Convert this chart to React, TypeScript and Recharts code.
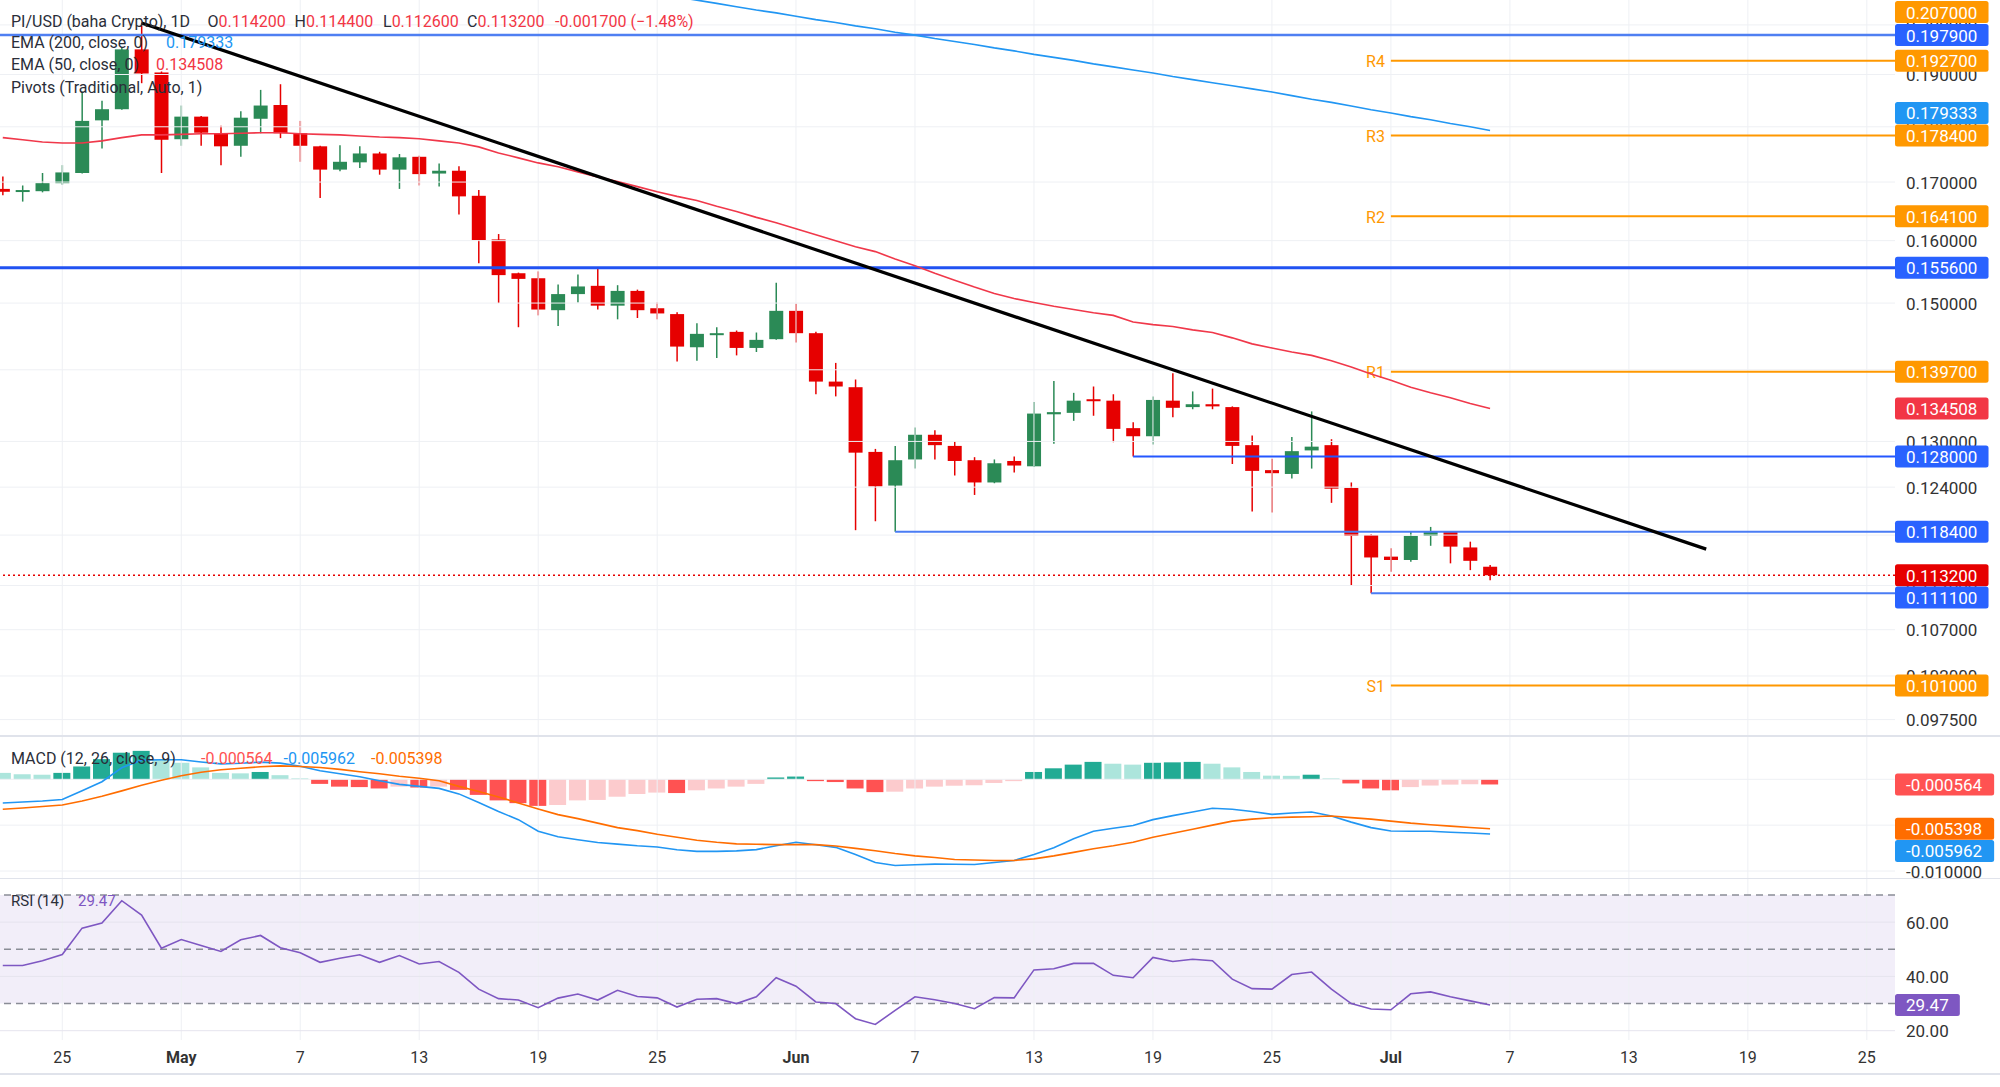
import React from 'react';
import { ComposedChart, Bar, Line, XAxis, YAxis, ReferenceLine, ReferenceArea, Cell } from 'recharts';

const FONT = 'Roboto, "Noto Sans", Arial, sans-serif';
const CHART_W = 2000;
const AXIS_W = 105;
const PLOT_W = CHART_W - AXIS_W;
const X_MIN = -0.14;
const X_MAX = 95.42;

const PRICE_H = 736;
const MACD_TOP = 736;
const MACD_H = 142;
const RSI_TOP = 879;
const RSI_H = 161;
const TIME_H = 33;

const P_MIN = 0.09586;
const P_MAX = 0.20522;
const MACD_MIN = -0.010763;
const MACD_MAX = 0.004722;
const RSI_MIN = 16.57;
const RSI_MAX = 75.9;

const BULL = '#2b8a56';
const BEAR = '#e60000';
const BLUE = '#2962ff';
const ORANGE = '#ff9800';
const GRID = '#eef0f4';
const TEXT = '#2a2e39';

// daily candles, index 0 = Apr 22, last = Jul 6
const open = [
  0.1688, 0.1684, 0.1684, 0.1698, 0.1716, 0.1812, 0.1833, 0.1950, 0.1904, 0.1777,
  0.1819, 0.1788, 0.1765, 0.1815, 0.1841, 0.1788, 0.1764, 0.1722, 0.1735, 0.1751,
  0.1722, 0.1745, 0.1715, 0.1720, 0.1676, 0.1602, 0.1547, 0.1539, 0.1489, 0.1514,
  0.1527, 0.1496, 0.1519, 0.1492, 0.1483, 0.1433, 0.1452, 0.1456, 0.1432, 0.1445,
  0.1488, 0.1454, 0.1383, 0.1375, 0.1286, 0.1242, 0.1276, 0.1309, 0.1294, 0.1275,
  0.1246, 0.1274, 0.1267, 0.1337, 0.1339, 0.1358, 0.1356, 0.1318, 0.1307, 0.1356,
  0.1347, 0.1351, 0.1347, 0.1295, 0.1262, 0.1257, 0.1288, 0.1295, 0.1239, 0.1180,
  0.1154, 0.1150, 0.1179, 0.1184, 0.1165, 0.1142,
];
const high = [
  0.1710, 0.1694, 0.1716, 0.1730, 0.1867, 0.1849, 0.1955, 0.2004, 0.1906, 0.1840,
  0.1820, 0.1802, 0.1829, 0.1870, 0.1881, 0.1811, 0.1765, 0.1766, 0.1764, 0.1754,
  0.1750, 0.1747, 0.1733, 0.1728, 0.1686, 0.1611, 0.1548, 0.1550, 0.1529, 0.1545,
  0.1555, 0.1528, 0.1521, 0.1501, 0.1486, 0.1469, 0.1463, 0.1458, 0.1455, 0.1532,
  0.1499, 0.1456, 0.1410, 0.1386, 0.1290, 0.1294, 0.1319, 0.1315, 0.1300, 0.1279,
  0.1276, 0.1280, 0.1354, 0.1384, 0.1367, 0.1376, 0.1365, 0.1326, 0.1362, 0.1395,
  0.1369, 0.1373, 0.1348, 0.1308, 0.1277, 0.1306, 0.1341, 0.1303, 0.1246, 0.1181,
  0.1164, 0.1184, 0.1190, 0.1185, 0.1172, 0.1144,
];
const low = [
  0.1677, 0.1666, 0.1682, 0.1695, 0.1715, 0.1760, 0.1832, 0.1883, 0.1716, 0.1765,
  0.1765, 0.1730, 0.1745, 0.1788, 0.1779, 0.1736, 0.1672, 0.1719, 0.1725, 0.1713,
  0.1688, 0.1694, 0.1692, 0.1644, 0.1563, 0.1500, 0.1463, 0.1481, 0.1465, 0.1501,
  0.1490, 0.1475, 0.1477, 0.1475, 0.1412, 0.1413, 0.1417, 0.1421, 0.1426, 0.1444,
  0.1440, 0.1365, 0.1362, 0.1186, 0.1197, 0.1184, 0.1264, 0.1276, 0.1255, 0.1230,
  0.1245, 0.1259, 0.1266, 0.1297, 0.1328, 0.1335, 0.1299, 0.1280, 0.1296, 0.1333,
  0.1344, 0.1344, 0.1270, 0.1209, 0.1208, 0.1251, 0.1264, 0.1220, 0.1120, 0.1111,
  0.1136, 0.1148, 0.1167, 0.1146, 0.1138, 0.1126,
];
const close = [
  0.1683, 0.1686, 0.1698, 0.1717, 0.1811, 0.1833, 0.1950, 0.1902, 0.1776, 0.1819,
  0.1789, 0.1764, 0.1817, 0.1840, 0.1788, 0.1765, 0.1722, 0.1736, 0.1751, 0.1722,
  0.1744, 0.1714, 0.1720, 0.1675, 0.1601, 0.1544, 0.1538, 0.1490, 0.1514, 0.1526,
  0.1496, 0.1519, 0.1489, 0.1484, 0.1434, 0.1453, 0.1454, 0.1432, 0.1444, 0.1488,
  0.1454, 0.1383, 0.1376, 0.1285, 0.1241, 0.1275, 0.1309, 0.1295, 0.1274, 0.1246,
  0.1271, 0.1268, 0.1338, 0.1340, 0.1356, 0.1356, 0.1317, 0.1307, 0.1357, 0.1346,
  0.1351, 0.1348, 0.1294, 0.1261, 0.1258, 0.1287, 0.1293, 0.1238, 0.1179, 0.1153,
  0.1150, 0.1179, 0.1184, 0.1166, 0.1149, 0.1132,
];
const ema50 = [
  0.1780, 0.1776, 0.1772, 0.1770, 0.1770, 0.1774, 0.1780, 0.1785, 0.1785, 0.1786,
  0.1787, 0.1787, 0.1788, 0.1789, 0.1789, 0.1787, 0.1786, 0.1785, 0.1783, 0.1781,
  0.1780, 0.1778, 0.1774, 0.1770, 0.1763, 0.1752, 0.1743, 0.1734, 0.1727, 0.1718,
  0.1709, 0.1701, 0.1692, 0.1683, 0.1675, 0.1668, 0.1658, 0.1649, 0.1639, 0.1630,
  0.1620, 0.1610, 0.1600, 0.1590, 0.1582, 0.1570, 0.1559, 0.1547, 0.1536, 0.1525,
  0.1515, 0.1507, 0.1501, 0.1495, 0.1490, 0.1485, 0.1481, 0.1471, 0.1467, 0.1464,
  0.1459, 0.1455, 0.1447, 0.1438, 0.1432, 0.1426, 0.1421, 0.1413, 0.1404, 0.1394,
  0.1385, 0.1375, 0.1367, 0.1360, 0.1352, 0.1345,
];
const ema200: (number | null)[] = [
  ...Array(33).fill(null),
  0.2065, 0.2058, 0.2052, 0.2045, 0.2038, 0.2031, 0.2025,
  0.2018, 0.2011, 0.2005, 0.1998, 0.1992, 0.1985, 0.1979, 0.1972, 0.1966, 0.1960,
  0.1953, 0.1947, 0.1940, 0.1934, 0.1928, 0.1921, 0.1915, 0.1909, 0.1903, 0.1896,
  0.1890, 0.1884, 0.1878, 0.1872, 0.1866, 0.1859, 0.1852, 0.1846, 0.1839, 0.1832,
  0.1826, 0.1819, 0.1813, 0.1806, 0.1800, 0.1793,
];

const macd = [
  -0.00258, -0.00247, -0.00236, -0.0022, -0.00126, -0.00027, 0.00126, 0.00209, 0.00214, 0.00214,
  0.00189, 0.00168, 0.00175, 0.00187, 0.00176, 0.00143, 0.00093, 0.0006, 0.00027, -0.00016,
  -0.00055, -0.00077, -0.00099, -0.00159, -0.00253, -0.00352, -0.0044, -0.00566, -0.00626, -0.00659,
  -0.0069, -0.00707, -0.00725, -0.00738, -0.00769, -0.00786, -0.00786, -0.0078, -0.00767, -0.00725,
  -0.00687, -0.00714, -0.00742, -0.00819, -0.00907, -0.0094, -0.00932, -0.00925, -0.00926, -0.00929,
  -0.00907, -0.00885, -0.00819, -0.00747, -0.00648, -0.00566, -0.00533, -0.00503, -0.0044, -0.00396,
  -0.00357, -0.00316, -0.00327, -0.00352, -0.00382, -0.00368, -0.00357, -0.00401, -0.00467, -0.00527,
  -0.00563, -0.00566, -0.00566, -0.00577, -0.00586, -0.005962,
];
const signal = [
  -0.00326, -0.00313, -0.00297, -0.0028, -0.00236, -0.00185, -0.00126, -0.00066, -0.00011, 0.00038,
  0.00077, 0.00104, 0.00121, 0.00137, 0.00146, 0.0014, 0.00129, 0.00108, 0.00082, 0.0006,
  0.00033, 0.00011, -0.00016, -0.00077, -0.00132, -0.00192, -0.00258, -0.00324, -0.00385, -0.00429,
  -0.00478, -0.00527, -0.0056, -0.00599, -0.00632, -0.00665, -0.00687, -0.00704, -0.00709, -0.00712,
  -0.00712, -0.00712, -0.00727, -0.00753, -0.0078, -0.0081, -0.00835, -0.00852, -0.00874, -0.0088,
  -0.00885, -0.00885, -0.00868, -0.00835, -0.00797, -0.00758, -0.00725, -0.00687, -0.00632, -0.00588,
  -0.00544, -0.005, -0.00456, -0.00434, -0.0042, -0.00413, -0.00408, -0.00401, -0.00418, -0.00434,
  -0.00456, -0.00478, -0.00495, -0.00511, -0.00525, -0.005398,
];
const hist = [
  0.0007, 0.00055, 0.0005, 0.0007, 0.0014, 0.0022, 0.0029, 0.0031, 0.0021, 0.0018,
  0.0013, 0.0007, 0.00065, 0.0008, 0.00045, 0.0001, -0.0005, -0.0008, -0.00085, -0.001,
  -0.0008, -0.0009, -0.0008, -0.00115, -0.0017, -0.0023, -0.0026, -0.0029, -0.0028, -0.0023,
  -0.00225, -0.0019, -0.0016, -0.00145, -0.0015, -0.0012, -0.001, -0.0008, -0.0005, 0.0002,
  0.0003, -0.0002, -0.0003, -0.001, -0.0014, -0.00135, -0.001, -0.0008, -0.0007, -0.00065,
  -0.0004, -0.0002, 0.0008, 0.0012, 0.0016, 0.0019, 0.0017, 0.0016, 0.0018, 0.00185,
  0.0019, 0.0017, 0.0013, 0.0008, 0.0004, 0.00038, 0.0005, 0.0001, -0.00045, -0.001,
  -0.0012, -0.00085, -0.00068, -0.00058, -0.00054, -0.000564,
];
const rsi = [
  44.0, 44.0, 45.8, 48.1, 57.8, 59.7, 67.9, 62.6, 50.4, 53.6,
  51.4, 49.2, 53.5, 55.1, 50.6, 48.7, 45.2, 46.7, 48.0, 45.2,
  47.7, 44.6, 45.5, 41.5, 35.3, 31.8, 31.3, 28.5, 32.0, 33.5,
  31.3, 34.9, 32.6, 32.1, 28.7, 31.6, 31.8, 30.0, 32.5, 39.5,
  36.4, 30.6, 30.0, 24.4, 22.3, 27.5, 32.5, 31.4, 30.0, 28.1,
  32.2, 32.1, 42.4, 42.8, 44.8, 44.8, 40.4, 39.5, 47.0, 45.5,
  46.3, 45.8, 39.0, 35.5, 35.3, 40.7, 41.6, 35.3, 30.0, 28.0,
  27.7, 33.6, 34.3, 32.5, 31.0, 29.47,
];

// axis ticks
const dateTickDays = [3, 9, 15, 21, 27, 33, 40, 46, 52, 58, 64, 70, 76, 82, 88, 94];
const dateTickLabels = ['25', 'May', '7', '13', '19', '25', 'Jun', '7', '13', '19', '25', 'Jul', '7', '13', '19', '25'];
const priceTicks = [0.2, 0.19, 0.18, 0.17, 0.16, 0.15, 0.14, 0.13, 0.124, 0.118, 0.112, 0.107, 0.102, 0.0975];
const macdTicks = [0, -0.005, -0.01];
const rsiTicks = [20, 40, 60];
const rsiBands = [70, 50, 30];

// levels
const fullLevels = [0.1979, 0.1556];
const supportLevels = [0.128, 0.1184, 0.1111];
const supportFrom = [57, 45, 69];
const pivotNames = ['R4', 'R3', 'R2', 'R1', 'S1'];
const pivotValues = [0.1927, 0.1784, 0.1641, 0.1397, 0.101];
const pivotFrom = 70;
const pivotR5 = 0.207;
const lastPrice = 0.1132;
const trendFrom = { d: 7, v: 0.2004 };
const trendTo = { d: 85.9, v: 0.1163 };

const lastEma200 = 0.179333;
const lastEma50 = 0.134508;

const priceRows = open.map((o, i) => ({
  d: i,
  o,
  h: high[i],
  l: low[i],
  c: close[i],
  range: [low[i], high[i]],
  ema50: ema50[i],
  ema200: ema200[i],
}));
const macdRows = macd.map((m, i) => ({ d: i, macd: m, signal: signal[i], hist: hist[i] }));
const rsiRows = rsi.map((r, i) => ({ d: i, rsi: r }));

function histColor(i: number) {
  const v = hist[i];
  const prev = i > 0 ? hist[i - 1] : Infinity;
  if (v >= 0) return v > prev ? '#22ab94' : '#ace5dc';
  return v < (i > 0 ? prev : -Infinity) ? '#ff5252' : '#fccbcd';
}

function Candle(props: any) {
  const { x, y, width, height, payload } = props;
  if (!payload || !height) return null;
  const { o, h, l, c } = payload;
  const k = height / (Math.log(h) - Math.log(l));
  const py = (v: number) => y + (Math.log(h) - Math.log(v)) * k;
  const color = c >= o ? BULL : BEAR;
  const top = py(Math.max(o, c));
  const bot = py(Math.min(o, c));
  const cx = x + width / 2;
  return (
    <g>
      <line x1={cx} x2={cx} y1={y} y2={y + height} stroke={color} strokeWidth={1.5} />
      <rect x={x} y={top} width={width} height={Math.max(bot - top, 2)} fill={color} />
    </g>
  );
}

function tagWidth(t: string, fs: number) {
  let w = 0;
  for (const ch of t) w += ch === '.' ? 0.27 : ch === '-' ? 0.33 : 0.5625;
  return w * fs + 22;
}

function Tag(props: any) {
  const { viewBox, text, bg, shift = 0 } = props;
  if (!viewBox) return null;
  const cy = Math.max(viewBox.y + shift, 12);
  return (
    <g>
      <rect x={PLOT_W} y={cy - 11} width={tagWidth(text, 17)} height={22} rx={2.5} fill={bg} />
      <text x={PLOT_W + 11} y={cy + 0.5} dominantBaseline="central" fill="#fff" fontSize={17} fontFamily={FONT}>
        {text}
      </text>
    </g>
  );
}

function PivotName(props: any) {
  const { viewBox, name } = props;
  if (!viewBox) return null;
  return (
    <text x={viewBox.x - 6} y={viewBox.y + 1} textAnchor="end" dominantBaseline="central" fill={ORANGE} fontSize={16} fontFamily={FONT}>
      {name}
    </text>
  );
}

const axisTick = (fmt: (v: number) => string) => (props: any) => (
  <text x={PLOT_W + 11} y={props.y + 0.5} dominantBaseline="central" fontSize={17} fill="#333" fontFamily={FONT}>
    {fmt(props.payload.value)}
  </text>
);

function DateTick(props: any) {
  const i = dateTickDays.indexOf(props.payload.value);
  const label = dateTickLabels[i] ?? '';
  const bold = isNaN(Number(label));
  return (
    <text x={props.x} y={RSI_H + 17} textAnchor="middle" dominantBaseline="central" fontSize={16}
      fontWeight={bold ? 700 : 400} fill="#333" fontFamily={FONT}>
      {label}
    </text>
  );
}

const margin0 = { top: 0, right: 0, bottom: 0, left: 0 };
const marginOverlay = { top: 0, right: AXIS_W, bottom: 0, left: 0 };

const vGrid = dateTickDays.map((d) => <ReferenceLine key={`v${d}`} x={d} stroke={GRID} strokeWidth={1} />);

const fmt6 = (v: number) => v.toFixed(6);

function PricePane() {
  return (
    <ComposedChart width={CHART_W} height={PRICE_H} data={priceRows} margin={margin0}>
      <XAxis type="number" dataKey="d" domain={[X_MIN, X_MAX]} allowDataOverflow hide />
      <YAxis orientation="right" width={AXIS_W} scale="log" domain={[P_MIN, P_MAX]} allowDataOverflow
        ticks={priceTicks} interval={0} axisLine={false} tickLine={false} tick={axisTick(fmt6)} />
      {vGrid}
      {priceTicks.map((t) => <ReferenceLine key={`h${t}`} y={t} stroke={GRID} strokeWidth={1} />)}
      <ReferenceLine y={fullLevels[0]} stroke="#4f7ff2" strokeWidth={2.5} />
      <ReferenceLine y={fullLevels[1]} stroke="#2152f2" strokeWidth={3} />
      {supportLevels.map((v, i) => (
        <ReferenceLine key={`s${v}`} segment={[{ x: supportFrom[i], y: v }, { x: X_MAX, y: v }]}
          stroke={i === 0 ? '#2457ff' : '#4a7cf4'} strokeWidth={2} />
      ))}
      {pivotValues.map((v, i) => (
        <ReferenceLine key={`p${v}`} segment={[{ x: pivotFrom, y: v }, { x: X_MAX, y: v }]}
          stroke={ORANGE} strokeWidth={2} label={<PivotName name={pivotNames[i]} />} />
      ))}
      <Line dataKey="ema200" stroke="#2196f3" strokeWidth={1.6} dot={false} isAnimationActive={false} connectNulls={false} />
      <Line dataKey="ema50" stroke="#f0384a" strokeWidth={1.6} dot={false} isAnimationActive={false} />
      <Bar dataKey="range" barSize={14} isAnimationActive={false} shape={(p: any) => <Candle {...p} />} />
      <ReferenceLine y={lastPrice} stroke={BEAR} strokeWidth={1.5} strokeDasharray="2 3" />
      <ReferenceLine segment={[{ x: trendFrom.d, y: trendFrom.v }, { x: trendTo.d, y: trendTo.v }]}
        stroke="#000" strokeWidth={3.2} />
    </ComposedChart>
  );
}

function PriceTags() {
  const tags = [
    { v: pivotR5, bg: ORANGE, shift: 0 },
    { v: fullLevels[0], bg: BLUE, shift: 0 },
    { v: pivotValues[0], bg: ORANGE, shift: 0 },
    { v: lastEma200, bg: '#2196f3', shift: -17.5 },
    { v: pivotValues[1], bg: ORANGE, shift: 0 },
    { v: pivotValues[2], bg: ORANGE, shift: 0 },
    { v: fullLevels[1], bg: BLUE, shift: 0 },
    { v: pivotValues[3], bg: ORANGE, shift: 0 },
    { v: lastEma50, bg: '#f23645', shift: 0 },
    { v: supportLevels[0], bg: BLUE, shift: 0 },
    { v: supportLevels[1], bg: BLUE, shift: 0 },
    { v: lastPrice, bg: BEAR, shift: 0 },
    { v: supportLevels[2], bg: BLUE, shift: 4.2 },
    { v: pivotValues[4], bg: ORANGE, shift: 0 },
  ];
  return (
    <ComposedChart width={CHART_W} height={PRICE_H} data={priceRows} margin={marginOverlay}>
      <XAxis type="number" dataKey="d" domain={[X_MIN, X_MAX]} allowDataOverflow hide />
      <YAxis scale="log" domain={[P_MIN, P_MAX]} allowDataOverflow hide />
      {tags.map((t) => (
        <ReferenceLine key={`t${t.v}`} y={t.v} stroke="none" ifOverflow="visible"
          label={<Tag text={t.v.toFixed(6)} bg={t.bg} shift={t.shift} />} />
      ))}
    </ComposedChart>
  );
}

function MacdPane() {
  return (
    <ComposedChart width={CHART_W} height={MACD_H} data={macdRows} margin={margin0}>
      <XAxis type="number" dataKey="d" domain={[X_MIN, X_MAX]} allowDataOverflow hide />
      <YAxis orientation="right" width={AXIS_W} domain={[MACD_MIN, MACD_MAX]} allowDataOverflow
        ticks={macdTicks} interval={0} axisLine={false} tickLine={false} tick={axisTick(fmt6)} />
      {vGrid}
      {macdTicks.map((t) => <ReferenceLine key={`m${t}`} y={t} stroke={GRID} strokeWidth={1} />)}
      <Bar dataKey="hist" barSize={17} isAnimationActive={false}>
        {macdRows.map((r, i) => <Cell key={i} fill={histColor(i)} />)}
      </Bar>
      <Line dataKey="macd" stroke="#2196f3" strokeWidth={1.6} dot={false} isAnimationActive={false} />
      <Line dataKey="signal" stroke="#ff6d00" strokeWidth={1.6} dot={false} isAnimationActive={false} />
    </ComposedChart>
  );
}

function MacdTags() {
  const n = macd.length - 1;
  const tags = [
    { v: hist[n], bg: '#ff5252', shift: 0 },
    { v: signal[n], bg: '#ff6d00', shift: 0 },
    { v: macd[n], bg: '#2196f3', shift: 17 },
  ];
  return (
    <ComposedChart width={CHART_W} height={MACD_H} data={macdRows} margin={marginOverlay}>
      <XAxis type="number" dataKey="d" domain={[X_MIN, X_MAX]} allowDataOverflow hide />
      <YAxis domain={[MACD_MIN, MACD_MAX]} allowDataOverflow hide />
      {tags.map((t) => (
        <ReferenceLine key={`mt${t.v}`} y={t.v} stroke="none" ifOverflow="visible"
          label={<Tag text={t.v.toFixed(6)} bg={t.bg} shift={t.shift} />} />
      ))}
    </ComposedChart>
  );
}

function RsiPane() {
  return (
    <ComposedChart width={CHART_W} height={RSI_H + TIME_H} data={rsiRows} margin={margin0}>
      <XAxis type="number" dataKey="d" domain={[X_MIN, X_MAX]} allowDataOverflow ticks={dateTickDays}
        interval={0} height={TIME_H} axisLine={false} tickLine={false} tick={DateTick} />
      <YAxis orientation="right" width={AXIS_W} domain={[RSI_MIN, RSI_MAX]} allowDataOverflow
        ticks={rsiTicks} interval={0} axisLine={false} tickLine={false} tick={axisTick((v) => v.toFixed(2))} />
      <ReferenceArea y1={rsiBands[2]} y2={rsiBands[0]} fill="#7e57c2" fillOpacity={0.1} stroke="none" />
      {vGrid}
      {rsiTicks.map((t) => <ReferenceLine key={`r${t}`} y={t} stroke="#e6e4ee" strokeWidth={1} />)}
      {rsiBands.map((b) => (
        <ReferenceLine key={`b${b}`} y={b} stroke="#8a8d96" strokeWidth={1.5} strokeDasharray="7 5" />
      ))}
      <Line dataKey="rsi" stroke="#7e57c2" strokeWidth={1.6} dot={false} isAnimationActive={false} />
    </ComposedChart>
  );
}

function RsiTags() {
  const n = rsi.length - 1;
  return (
    <ComposedChart width={CHART_W} height={RSI_H + TIME_H} data={rsiRows}
      margin={{ top: 0, right: AXIS_W, bottom: TIME_H, left: 0 }}>
      <XAxis type="number" dataKey="d" domain={[X_MIN, X_MAX]} allowDataOverflow hide />
      <YAxis domain={[RSI_MIN, RSI_MAX]} allowDataOverflow hide />
      <ReferenceLine y={rsi[n]} stroke="none" ifOverflow="visible"
        label={<Tag text={rsi[n].toFixed(2)} bg="#7e57c2" />} />
    </ComposedChart>
  );
}

const abs = (left: number, top: number): React.CSSProperties => ({ position: 'absolute', left, top });

function Legend({ top, left, color, size = 16, children }: any) {
  return (
    <div style={{ position: 'absolute', left, top: top - 11, height: 22, lineHeight: '22px', fontSize: size, color: color ?? TEXT, whiteSpace: 'nowrap' }}>
      {children}
    </div>
  );
}

const RED_TXT = '#f23645';

export default function App() {
  const n = close.length - 1;
  const chg = close[n] - close[n - 1];
  return (
    <div style={{ position: 'absolute', left: 0, top: 0, width: 2000, height: 1087, background: '#fff', fontFamily: FONT, overflow: 'hidden' }}>
      <div style={abs(0, 0)}><PricePane /></div>
      <div style={abs(0, 0)}><PriceTags /></div>
      <div style={abs(0, MACD_TOP)}><MacdPane /></div>
      <div style={abs(0, MACD_TOP)}><MacdTags /></div>
      <div style={abs(0, RSI_TOP)}><RsiPane /></div>
      <div style={abs(0, RSI_TOP)}><RsiTags /></div>

      <div style={{ position: 'absolute', left: 0, top: 735, width: 2000, height: 1.5, background: '#e0e3eb' }} />
      <div style={{ position: 'absolute', left: 0, top: 877.5, width: 2000, height: 1.5, background: '#e0e3eb' }} />
      <div style={{ position: 'absolute', left: 0, top: 1073, width: 2000, height: 2, background: '#e0e3eb' }} />

      <Legend top={21.7} left={11}>PI/USD (baha Crypto), 1D</Legend>
      <Legend top={21.7} left={207.6}>O<span style={{ color: RED_TXT }}>{open[n].toFixed(6)}</span></Legend>
      <Legend top={21.7} left={294.6}>H<span style={{ color: RED_TXT }}>{high[n].toFixed(6)}</span></Legend>
      <Legend top={21.7} left={383}>L<span style={{ color: RED_TXT }}>{low[n].toFixed(6)}</span></Legend>
      <Legend top={21.7} left={467}>C<span style={{ color: RED_TXT }}>{close[n].toFixed(6)}</span></Legend>
      <Legend top={21.7} left={555} color={RED_TXT}>{`${chg.toFixed(6)} (\u2212${Math.abs((chg / close[n - 1]) * 100).toFixed(2)}%)`}</Legend>

      <Legend top={43.3} left={11}>EMA (200, close, 0)</Legend>
      <Legend top={43.3} left={166} color="#2196f3">{lastEma200.toFixed(6)}</Legend>
      <Legend top={65} left={11}>EMA (50, close, 0)</Legend>
      <Legend top={65} left={156} color={RED_TXT}>{lastEma50.toFixed(6)}</Legend>
      <Legend top={88.3} left={11}>Pivots (Traditional, Auto, 1)</Legend>

      <Legend top={759.3} left={11}>MACD (12, 26, close, 9)</Legend>
      <Legend top={759.3} left={201} color="#ff5252">{hist[n].toFixed(6)}</Legend>
      <Legend top={759.3} left={283.5} color="#2196f3">{macd[n].toFixed(6)}</Legend>
      <Legend top={759.3} left={371} color="#ff6d00">{signal[n].toFixed(6)}</Legend>

      <Legend top={901} left={11} size={15}>RSI (14)</Legend>
      <Legend top={901} left={78} size={15} color="#7e57c2">{rsi[n].toFixed(2)}</Legend>
    </div>
  );
}
